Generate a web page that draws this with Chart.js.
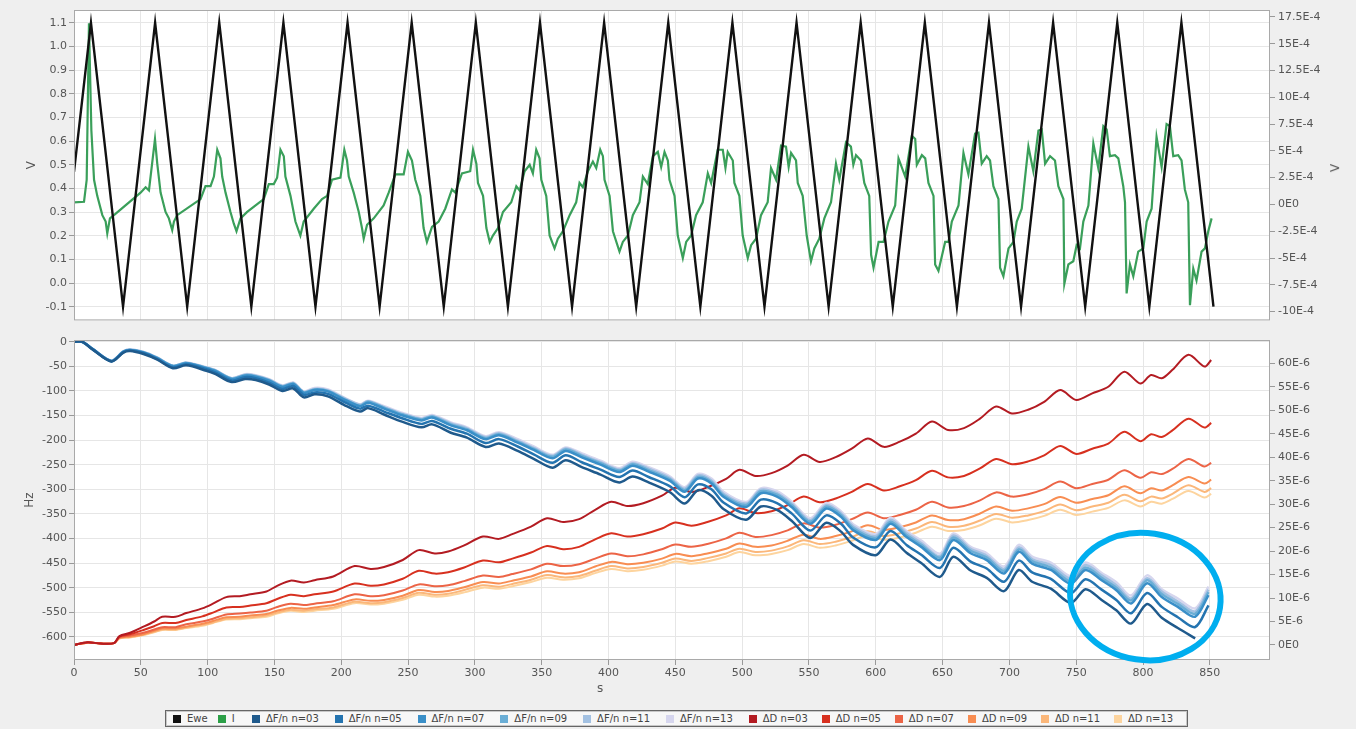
<!DOCTYPE html>
<html>
<head>
<meta charset="utf-8">
<script src="https://cdn.jsdelivr.net/npm/chart.js@4.4.0/dist/chart.umd.min.js"></script>
<style>
  html, body { margin: 0; padding: 0; }
  body { width: 1356px; height: 729px; background: #efefef; position: relative; overflow: hidden; font-family: "DejaVu Sans", sans-serif; }
  canvas { position: absolute; left: 0; }
  #topChart { top: 0; }
  #bottomChart { top: 330px; }
  #xTitle { position: absolute; left: 597px; top: 681px; font-size: 12px; color: #555; }
  #rightTitle { position: absolute; left: 1331px; top: 161px; font-size: 12px; color: #555; transform: rotate(-90deg); }
  #legend { position: absolute; left: 165px; top: 710px; width: 1023px; height: 17px; box-sizing: border-box;
    border: 1px solid #666; box-shadow: inset 0 0 0 1px #c8c8c8; background: #f7f7f7;
    display: flex; align-items: center; padding-left: 7px; font-size: 10px; color: #444; }
  .item { display: flex; align-items: center; white-space: nowrap; }
  .box { width: 8px; height: 8px; margin-right: 6px; flex: none; }
</style>
</head>
<body>
<canvas id="topChart" width="1356" height="330"></canvas>
<canvas id="bottomChart" width="1356" height="370"></canvas>
<div id="xTitle">s</div>
<div id="rightTitle">V</div>
<div id="legend"></div>
<script>
// tick labels
const timeTicks = [0, 50, 100, 150, 200, 250, 300, 350, 400, 450, 500, 550, 600, 650, 700, 750, 800, 850];
const voltTicks = [-0.1, 0, 0.1, 0.2, 0.3, 0.4, 0.5, 0.6, 0.7, 0.8, 0.9, 1.0, 1.1];
const currentTicks = [-10, -7.5, -5, -2.5, 0, 2.5, 5, 7.5, 10, 12.5, 15, 17.5]; // E-4
const hzTicks = [0, -50, -100, -150, -200, -250, -300, -350, -400, -450, -500, -550, -600];
const dissTicks = [0, 5, 10, 15, 20, 25, 30, 35, 40, 45, 50, 55, 60]; // E-6

// Ewe (V) triangle vertices
const eweTime = [0, 12.7, 36.7, 60.7, 84.7, 108.7, 132.7, 156.7, 180.7, 204.7, 228.7, 252.7, 276.7, 300.7, 324.7, 348.7, 372.7, 396.7, 420.7, 444.7, 468.7, 492.7, 516.7, 540.7, 564.7, 588.7, 612.7, 636.7, 660.7, 684.7, 708.7, 732.7, 756.7, 780.7, 804.7, 828.7, 852.7];
const eweVolt = [0.47, 1.1, -0.1, 1.1, -0.1, 1.1, -0.1, 1.1, -0.1, 1.1, -0.1, 1.1, -0.1, 1.1, -0.1, 1.1, -0.1, 1.1, -0.1, 1.1, -0.1, 1.1, -0.1, 1.1, -0.1, 1.1, -0.1, 1.1, -0.1, 1.1, -0.1, 1.1, -0.1, 1.1, -0.1, 1.1, -0.1];

// I (E-4 A), [s, value]
const currentPts = [[0,0.19],[7.5,0.25],[9.5,2.3],[11.2,16.9],[13,6.9],[15,2.3],[17.4,0.8],[21.2,-1.0],[23.7,-1.6],[24.9,-2.7],[26.9,-1.3],[29.9,-1.0],[49.8,1.1],[53.6,1.6],[56.1,1.3],[60.6,6.1],[62.3,3.8],[64.8,1.1],[68.5,-0.7],[71,-1.3],[73.5,-2.4],[74.8,-1.6],[77.2,-1.0],[94.7,0.5],[98.4,1.7],[102.2,1.7],[104.7,2.6],[107.2,5.1],[109.6,4.3],[110.9,2.6],[113.4,1.1],[117.1,-0.7],[119.6,-1.8],[121.6,-2.5],[124.6,-1.3],[129.6,-0.7],[142,0.5],[145.8,1.9],[149.5,1.9],[152,2.5],[154.5,5.1],[157,4.5],[158.2,2.6],[162,0.8],[165.7,-1.6],[169.4,-2.9],[171.9,-1.6],[179.4,-0.4],[185.6,0.5],[189.4,0.8],[193.1,2.3],[199.4,2.5],[202.3,5.1],[204.3,4.1],[205.6,2.6],[209.3,1.1],[213.1,-0.7],[215.5,-2.2],[216.8,-3.2],[219.3,-1.9],[224.3,-1.3],[231.7,-0.1],[235.5,1.1],[240.5,2.8],[246.7,2.8],[249.9,4.9],[252.9,4.1],[255.4,2.3],[259.2,0.8],[261.6,-2.2],[264.1,-3.5],[267.9,-2.1],[272.9,-1.6],[277.8,-0.4],[282.8,1.4],[285.3,1.1],[290.3,2.9],[296.5,3.1],[298.6,5.1],[301.1,3.8],[302.3,2.0],[306.1,0.8],[308.6,-2.2],[311.1,-3.5],[313.5,-2.9],[317.3,-2.2],[321,-0.7],[327.2,0.2],[331,1.7],[333.5,1.3],[337.2,3.1],[341,3.7],[343.4,2.9],[345.9,5.1],[348.4,4.3],[349.7,2.3],[353.4,0.8],[355.9,-2.9],[359.6,-4.1],[362.1,-3.2],[365.9,-2.5],[370.9,-1.0],[375.8,0.2],[378.3,2.0],[380.8,1.6],[384.6,3.1],[388.3,4.0],[390.8,3.4],[393.8,5.1],[395.8,4.5],[397,2.3],[400.8,0.8],[403.3,-2.5],[408.2,-4.4],[410.7,-3.5],[414.5,-2.9],[418.2,-1.0],[423.2,0.2],[425.7,2.6],[429.4,1.9],[433.2,4.5],[436.9,4.9],[439.4,3.5],[441.9,4.9],[444.4,4.1],[445.6,2.3],[449.4,0.8],[451.8,-2.9],[455.6,-5.0],[458.1,-3.5],[461.8,-2.9],[465.5,-1.0],[470.5,0.2],[474.3,2.9],[476.8,2.0],[481.7,5.1],[485.5,5.1],[487.5,3.4],[489.2,4.9],[493,4.1],[494.2,2.0],[497.9,0.8],[500.4,-2.9],[504.2,-5.0],[506.7,-3.8],[510.4,-3.2],[514.1,-1.0],[519.1,0.2],[521.6,3.4],[525.4,2.3],[529.1,5.5],[532.8,5.4],[534.8,3.5],[536.6,4.8],[540.3,4.1],[541.6,2.0],[545.3,0.8],[548.3,-2.9],[551.5,-5.3],[554,-4.1],[557.7,-3.2],[561.5,-1.3],[566.5,0.2],[570.2,3.8],[572.7,2.3],[577.7,5.8],[581.4,5.4],[583.2,3.7],[585.2,4.6],[588.9,4.1],[591.4,2.0],[595.1,0.8],[596.5,-4.7],[598.3,-5.9],[602.1,-3.5],[605.8,-3.5],[609.5,-1.6],[614.5,-0.1],[617,4.3],[622,2.6],[627,6.4],[629.5,6.1],[630.7,3.7],[634.5,4.6],[637,4.3],[639.4,2.0],[643.2,0.8],[644.4,-5.6],[646.9,-6.2],[651.9,-3.5],[654.4,-3.5],[656.9,-1.6],[661.9,-0.1],[665.6,4.8],[669.3,2.8],[674.3,6.6],[676.8,6.7],[679.3,3.8],[683,4.5],[685.5,4.1],[688,1.7],[691.8,0.5],[693,-5.9],[695.5,-6.7],[699.3,-4.1],[703,-3.5],[705.5,-1.6],[709.2,-0.4],[714.2,5.4],[717.9,3.1],[721.7,6.9],[724.2,7.0],[726.7,3.8],[730.4,4.5],[734.1,4.1],[736.6,1.7],[740.4,0.5],[741.1,-7.4],[744.1,-5.6],[747.8,-5.3],[750.3,-3.8],[752.8,-4.1],[755.3,-1.6],[759.1,-0.1],[762.8,5.7],[766.5,3.4],[770.3,7.3],[772.8,7.0],[775.2,4.5],[779,4.6],[781.5,4.3],[785.2,1.7],[786.5,0.2],[787.7,-8.3],[790.2,-5.6],[792.7,-6.7],[796.4,-4.4],[800.2,-4.1],[802.7,-1.6],[806.4,-0.4],[810.1,6.3],[813.9,3.5],[817.6,7.5],[820.1,7.3],[822.6,4.5],[826.3,4.6],[828.8,4.1],[831.3,1.4],[833.8,0.2],[835.1,-9.4],[837.6,-6.0],[840,-7.1],[843.8,-4.4],[846.3,-4.1],[848.8,-2.5],[851.3,-1.3]];

// ΔF/n (Hz)
const freqTime = [0, 6, 14, 28, 37, 42, 52, 62, 74, 84, 99, 106, 118, 128, 136, 146, 156, 164, 172, 180, 190, 204, 214, 220, 232, 246, 260, 268, 282, 294, 308, 318, 332, 344, 358, 368, 380, 394, 408, 418, 430, 446, 457, 467, 477, 486, 503, 514, 526, 537, 551, 563, 574, 583, 600, 611, 623, 634, 648, 658, 671, 683, 696, 707, 717, 731, 746, 757, 769, 780, 791, 803, 814, 826, 839, 849];
const freqN03 = [0, 0, -16, -40, -22, -19, -25, -36, -54, -48, -59, -66, -82, -76, -78, -87, -100, -95, -113, -107, -111, -131, -142, -135, -148, -163, -174, -168, -185, -195, -214, -207, -222, -238, -256, -241, -255, -270, -286, -274, -286, -306, -329, -302, -313, -340, -362, -335, -342, -364, -399, -368, -386, -413, -434, -402, -429, -450, -478, -437, -465, -480, -507, -464, -488, -502, -531, -503, -525, -546, -573, -533, -561, -582, -603, null];
const freqN05 = [0, 0, -15, -40, -21, -18, -23, -35, -52, -46, -56, -63, -79, -72, -74, -83, -96, -90, -108, -103, -106, -125, -136, -130, -142, -156, -167, -161, -177, -187, -206, -198, -213, -229, -246, -231, -245, -260, -275, -262, -275, -294, -316, -290, -300, -327, -349, -321, -328, -349, -384, -353, -370, -398, -418, -385, -413, -433, -460, -419, -447, -461, -488, -445, -469, -482, -511, -483, -504, -525, -552, -511, -539, -560, -580, -536];
const freqN07 = [0, 0, -15, -39, -20, -17, -22, -33, -50, -44, -54, -60, -76, -69, -71, -79, -92, -86, -104, -98, -101, -120, -131, -124, -136, -150, -160, -154, -170, -180, -198, -190, -205, -220, -237, -222, -235, -250, -265, -252, -264, -283, -305, -278, -288, -315, -336, -308, -315, -336, -370, -339, -356, -383, -403, -370, -397, -417, -444, -403, -430, -444, -471, -427, -451, -464, -492, -464, -485, -505, -532, -491, -519, -539, -559, -515];
const freqN09 = [0, 0, -15, -39, -20, -17, -22, -33, -49, -43, -53, -59, -75, -68, -70, -78, -91, -85, -103, -97, -100, -119, -130, -122, -134, -148, -158, -152, -168, -178, -196, -188, -203, -218, -234, -219, -232, -247, -262, -249, -261, -280, -302, -275, -285, -312, -332, -304, -311, -332, -366, -335, -352, -379, -399, -366, -393, -413, -439, -398, -425, -439, -466, -422, -446, -459, -487, -459, -480, -500, -526, -485, -513, -533, -553, -509];
const freqN11 = [0, 0, -15, -39, -20, -16, -21, -32, -49, -43, -53, -59, -74, -67, -69, -77, -90, -84, -102, -96, -99, -117, -128, -121, -133, -147, -157, -151, -166, -176, -194, -186, -201, -216, -232, -217, -230, -245, -260, -247, -258, -277, -299, -272, -282, -309, -329, -301, -308, -329, -363, -332, -349, -375, -395, -362, -389, -409, -436, -394, -421, -435, -462, -418, -442, -454, -482, -454, -475, -495, -522, -481, -508, -528, -548, -504];
const freqN13 = [0, 0, -15, -38, -19, -16, -21, -32, -49, -42, -52, -58, -74, -66, -68, -76, -89, -83, -101, -94, -97, -116, -127, -120, -131, -145, -155, -149, -164, -174, -192, -184, -198, -213, -230, -215, -227, -242, -257, -244, -255, -274, -296, -269, -278, -305, -326, -298, -304, -325, -359, -328, -345, -371, -391, -358, -385, -404, -431, -390, -417, -430, -457, -413, -437, -449, -477, -449, -470, -489, -516, -475, -503, -522, -542, -498];

// ΔD (E-6)
const dissTime = [0, 10, 20, 30, 34, 42, 52, 60, 66, 76, 84, 96, 104, 114, 124, 132, 144, 152, 162, 172, 180, 194, 210, 222, 232, 246, 258, 270, 280, 292, 306, 318, 328, 342, 354, 366, 378, 390, 402, 414, 426, 440, 450, 462, 474, 488, 498, 510, 522, 534, 546, 558, 570, 582, 594, 606, 618, 630, 642, 654, 666, 678, 690, 702, 714, 726, 738, 750, 762, 774, 786, 798, 806, 814, 822, 834, 846, 851];
const dissN03 = [0.0, 0.6, 0.3, 0.4, 1.9, 2.6, 3.9, 5.0, 6.0, 6.0, 6.8, 7.8, 8.8, 10.2, 10.4, 10.8, 11.4, 12.6, 13.7, 13.3, 13.8, 14.6, 16.8, 16.2, 16.6, 18.1, 20.2, 19.5, 19.9, 21.2, 23.1, 22.6, 23.6, 25.2, 27.0, 26.2, 26.8, 28.8, 30.5, 29.6, 30.2, 31.8, 33.5, 32.6, 33.6, 35.4, 37.3, 36.0, 36.6, 38.2, 40.5, 39.0, 40.0, 41.8, 44.0, 42.2, 43.3, 45.0, 47.6, 45.8, 46.2, 48.2, 50.8, 49.3, 50.1, 51.8, 54.3, 52.2, 53.6, 55.0, 58.2, 55.7, 57.5, 56.8, 58.6, 61.8, 59.3, 60.7];
const dissN05 = [0.0, 0.6, 0.3, 0.4, 1.8, 2.3, 3.2, 4.0, 4.7, 4.7, 5.3, 6.1, 6.9, 8.0, 8.1, 8.4, 8.9, 9.8, 10.7, 10.4, 10.8, 11.4, 13.1, 12.6, 12.9, 14.1, 15.8, 15.2, 15.5, 16.5, 18.0, 17.6, 18.4, 19.7, 21.1, 20.4, 20.9, 22.5, 23.8, 23.1, 23.6, 24.8, 26.1, 25.4, 26.2, 27.6, 29.1, 28.1, 28.5, 29.8, 31.6, 30.4, 31.2, 32.6, 34.3, 32.9, 33.8, 35.1, 37.1, 35.7, 36.0, 37.6, 39.6, 38.5, 39.1, 40.4, 42.4, 40.7, 41.8, 42.9, 45.4, 43.4, 44.9, 44.3, 45.7, 48.2, 46.3, 47.3];
const dissN07 = [0.0, 0.5, 0.3, 0.4, 1.6, 2.0, 2.6, 3.3, 3.8, 3.8, 4.4, 5.0, 5.6, 6.5, 6.7, 6.9, 7.3, 8.1, 8.8, 8.5, 8.8, 9.3, 10.8, 10.4, 10.6, 11.6, 12.9, 12.5, 12.7, 13.6, 14.8, 14.5, 15.1, 16.1, 17.3, 16.8, 17.2, 18.4, 19.5, 18.9, 19.3, 20.4, 21.4, 20.9, 21.5, 22.7, 23.9, 23.0, 23.4, 24.4, 25.9, 25.0, 25.6, 26.8, 28.2, 27.0, 27.7, 28.8, 30.5, 29.3, 29.6, 30.8, 32.5, 31.6, 32.1, 33.2, 34.8, 33.4, 34.3, 35.2, 37.2, 35.6, 36.8, 36.4, 37.5, 39.6, 38.0, 38.8];
const dissN09 = [0.0, 0.5, 0.3, 0.4, 1.5, 1.8, 2.3, 3.0, 3.5, 3.5, 3.9, 4.5, 5.1, 5.9, 6.0, 6.3, 6.6, 7.3, 7.9, 7.7, 8.0, 8.5, 9.7, 9.4, 9.6, 10.5, 11.7, 11.3, 11.5, 12.3, 13.4, 13.1, 13.7, 14.6, 15.7, 15.2, 15.5, 16.7, 17.7, 17.2, 17.5, 18.4, 19.4, 18.9, 19.5, 20.5, 21.6, 20.9, 21.2, 22.2, 23.5, 22.6, 23.2, 24.2, 25.5, 24.5, 25.1, 26.1, 27.6, 26.6, 26.8, 28.0, 29.5, 28.6, 29.1, 30.0, 31.5, 30.3, 31.1, 31.9, 33.8, 32.3, 33.4, 32.9, 34.0, 35.8, 34.4, 35.2];
const dissN11 = [0.0, 0.5, 0.3, 0.4, 1.4, 1.7, 2.2, 2.8, 3.3, 3.3, 3.7, 4.3, 4.8, 5.6, 5.7, 5.9, 6.3, 6.9, 7.5, 7.3, 7.6, 8.0, 9.2, 8.9, 9.1, 10.0, 11.1, 10.7, 10.9, 11.7, 12.7, 12.4, 13.0, 13.9, 14.9, 14.4, 14.7, 15.8, 16.8, 16.3, 16.6, 17.5, 18.4, 17.9, 18.5, 19.5, 20.5, 19.8, 20.1, 21.0, 22.3, 21.5, 22.0, 23.0, 24.2, 23.2, 23.8, 24.8, 26.2, 25.2, 25.4, 26.5, 27.9, 27.1, 27.6, 28.5, 29.9, 28.7, 29.5, 30.3, 32.0, 30.6, 31.6, 31.2, 32.2, 34.0, 32.6, 33.4];
const dissN13 = [0.0, 0.5, 0.3, 0.4, 1.4, 1.6, 2.1, 2.7, 3.2, 3.2, 3.6, 4.1, 4.7, 5.4, 5.5, 5.7, 6.0, 6.7, 7.3, 7.0, 7.3, 7.7, 8.9, 8.6, 8.8, 9.6, 10.7, 10.3, 10.5, 11.2, 12.2, 12.0, 12.5, 13.4, 14.3, 13.9, 14.2, 15.3, 16.2, 15.7, 16.0, 16.9, 17.8, 17.3, 17.8, 18.8, 19.8, 19.1, 19.4, 20.2, 21.5, 20.7, 21.2, 22.2, 23.3, 22.4, 22.9, 23.9, 25.2, 24.3, 24.5, 25.5, 26.9, 26.1, 26.6, 27.5, 28.8, 27.7, 28.4, 29.2, 30.8, 29.5, 30.5, 30.1, 31.1, 32.8, 31.4, 32.2];

// circled area (s, Hz)
const ringNote = { t: 801.7, hz: -518, dt: 56.5, dhz: 129, tilt: 0.15 };

Chart.defaults.font.family = 'DejaVu Sans';
Chart.defaults.font.size = 11;
Chart.defaults.color = '#555';

const gridColor = '#e6e6e6';
const titleFont = { size: 12 };

function fixSize(size) {
  return scale => {
    if (scale.isHorizontal()) scale.height = size;
    else scale.width = size;
  };
}

function setTicks(values) {
  return scale => { scale.ticks = values.map(v => ({ value: v })); };
}

function pts(xs, ys) {
  return xs.map((x, i) => ({ x: x, y: ys[i] }));
}

const plotFrame = {
  id: 'plotFrame',
  beforeDraw(chart) {
    const { ctx, chartArea: a } = chart;
    ctx.save();
    ctx.fillStyle = '#fff';
    ctx.fillRect(a.left, a.top, a.right - a.left, a.bottom - a.top);
    ctx.restore();
  },
  afterDraw(chart) {
    const { ctx, chartArea: a } = chart;
    ctx.save();
    ctx.strokeStyle = '#a9a9a9';
    ctx.lineWidth = 1;
    ctx.strokeRect(a.left + 0.5, a.top + 0.5, a.right - a.left - 1, a.bottom - a.top - 1);
    ctx.restore();
  }
};

const ringPlugin = {
  id: 'ring',
  afterDraw(chart) {
    const x = chart.scales.x, y = chart.scales.yHz, ctx = chart.ctx;
    const cx = x.getPixelForValue(ringNote.t);
    const cy = y.getPixelForValue(ringNote.hz);
    const rx = x.getPixelForValue(ringNote.t + ringNote.dt) - cx;
    const ry = y.getPixelForValue(ringNote.hz - ringNote.dhz) - cy;
    ctx.save();
    ctx.strokeStyle = '#00aeef';
    ctx.lineWidth = 6;
    ctx.beginPath();
    ctx.ellipse(cx, cy, rx, ry, ringNote.tilt, 0, Math.PI * 2);
    ctx.stroke();
    ctx.restore();
  }
};

const sideAxis = (extra) => Object.assign({
  border: { display: false },
  grid: { color: gridColor, tickLength: 5, tickColor: '#999' },
}, extra);

const topChart = new Chart(document.getElementById('topChart'), {
  type: 'line',
  data: {
    datasets: [
      { label: 'Ewe', data: pts(eweTime, eweVolt), borderColor: '#111', backgroundColor: '#111', borderWidth: 2.4, yAxisID: 'yV' },
      { label: 'I', data: currentPts.map(p => ({ x: p[0], y: p[1] })), borderColor: '#3a9f5a', backgroundColor: '#2ca048', borderWidth: 2.2, yAxisID: 'yI' }
    ]
  },
  options: {
    responsive: false,
    animation: false,
    devicePixelRatio: 1,
    layout: { padding: { top: 10 } },
    elements: { point: { radius: 0 }, line: { tension: 0 } },
    plugins: { legend: { display: false }, tooltip: { enabled: false } },
    scales: {
      x: {
        type: 'linear', min: 0, max: 895,
        afterFit: fixSize(3), afterBuildTicks: setTicks(timeTicks),
        ticks: { display: false }, border: { display: false },
        grid: { color: gridColor, drawTicks: false }
      },
      yV: sideAxis({
        position: 'left', min: -0.158, max: 1.154,
        afterFit: fixSize(74), afterBuildTicks: setTicks(voltTicks),
        ticks: { callback: v => v.toFixed(1), padding: 2 },
        title: { display: true, text: 'V', font: titleFont, padding: { top: 25, bottom: 0 } }
      }),
      yI: sideAxis({
        position: 'right', min: -10.82, max: 18.14,
        afterFit: fixSize(86), afterBuildTicks: setTicks(currentTicks),
        ticks: { callback: v => v === 0 ? '0E0' : v + 'E-4', padding: 3 },
        grid: { drawOnChartArea: false, tickLength: 5, tickColor: '#999' }
      })
    }
  },
  plugins: [plotFrame]
});

const blue = ['#1f5a8c', '#2474b0', '#3a8fc8', '#6aaed6', '#a3c1e2', '#d6d6ee'];
const red = ['#b31b22', '#d7301f', '#ec6446', '#f88d52', '#fbb77a', '#fdd49e'];
const nLabels = ['03', '05', '07', '09', '11', '13'];
const freqSeries = [freqN03, freqN05, freqN07, freqN09, freqN11, freqN13];
const dissSeries = [dissN03, dissN05, dissN07, dissN09, dissN11, dissN13];

const bottomSets = [];
freqSeries.forEach((vals, i) => bottomSets.push({
  label: 'ΔF/n n=' + nLabels[i], data: pts(freqTime, vals), yAxisID: 'yHz',
  borderColor: blue[i], backgroundColor: blue[i], borderWidth: 2.5, tension: 0.3
}));
dissSeries.forEach((vals, i) => bottomSets.push({
  label: 'ΔD n=' + nLabels[i], data: pts(dissTime, vals), yAxisID: 'yD',
  borderColor: red[i], backgroundColor: red[i], borderWidth: 2, tension: 0.3
}));

const bottomChart = new Chart(document.getElementById('bottomChart'), {
  type: 'line',
  data: { datasets: bottomSets },
  options: {
    responsive: false,
    animation: false,
    devicePixelRatio: 1,
    layout: { padding: { top: 10 } },
    elements: { point: { radius: 0 } },
    plugins: { legend: { display: false }, tooltip: { enabled: false } },
    scales: {
      x: {
        type: 'linear', min: 0, max: 895,
        afterFit: fixSize(40), afterBuildTicks: setTicks(timeTicks),
        ticks: { padding: 2, maxRotation: 0, autoSkip: false },
        border: { display: false },
        grid: { color: gridColor, tickLength: 5, tickColor: '#999' }
      },
      yHz: sideAxis({
        position: 'left', min: -647, max: 3.5,
        afterFit: fixSize(74), afterBuildTicks: setTicks(hzTicks),
        ticks: { callback: v => String(v), padding: 2 },
        title: { display: true, text: 'Hz', font: titleFont, padding: { top: 23, bottom: 0 } }
      }),
      yD: sideAxis({
        position: 'right', min: -3.2, max: 64.96,
        afterFit: fixSize(86), afterBuildTicks: setTicks(dissTicks),
        ticks: { callback: v => v === 0 ? '0E0' : v + 'E-6', padding: 3 },
        grid: { drawOnChartArea: false, tickLength: 5, tickColor: '#999' }
      })
    }
  },
  plugins: [plotFrame, ringPlugin]
});

// legend row under the charts
const legendEl = document.getElementById('legend');
[...topChart.data.datasets, ...bottomChart.data.datasets].forEach(ds => {
  const item = document.createElement('div');
  item.className = 'item';
  let w = 35;
  if (ds.label === 'Ewe') w = 46;
  else if (ds.label.startsWith('ΔF')) w = 85;
  else if (ds.label.startsWith('ΔD')) w = 75;
  item.style.width = w + 'px';
  const box = document.createElement('span');
  box.className = 'box';
  box.style.background = ds.backgroundColor;
  const txt = document.createElement('span');
  txt.textContent = ds.label;
  item.appendChild(box);
  item.appendChild(txt);
  legendEl.appendChild(item);
});
</script>
</body>
</html>
